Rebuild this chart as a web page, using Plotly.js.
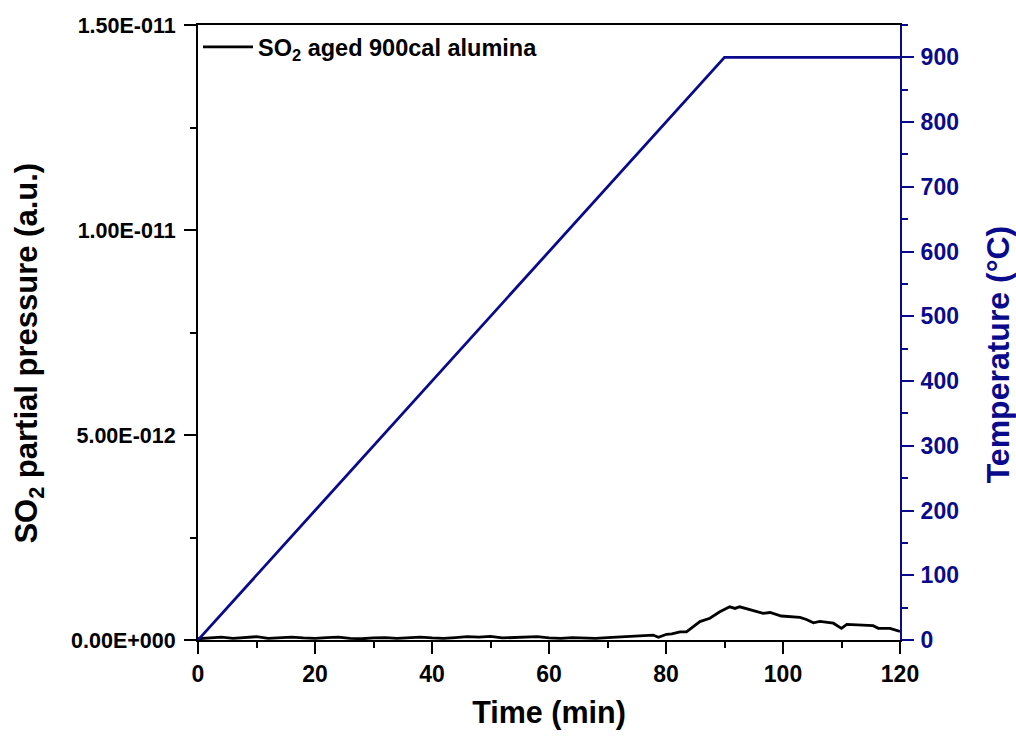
<!DOCTYPE html>
<html>
<head>
<meta charset="utf-8">
<script src="https://cdn.plot.ly/plotly-3.0.1.min.js"></script>
<style>html,body{margin:0;padding:0;background:#fff;}#chart{width:1016px;height:744px;}</style>
</head>
<body>
<div id="chart"></div>
<script>
// SO2 partial pressure (a.u.) vs time (min)
const so2Time = [0, 2, 4, 6, 8, 10, 12, 14, 16, 18, 20, 22, 24, 26, 28, 30, 32, 34, 36, 38,
  40, 42, 44, 46, 48, 50, 52, 54, 56, 58, 60, 62, 64, 66, 68, 70, 72, 74, 75, 77.8,
  78.7, 80.1, 81, 82.4, 83.5, 84.5, 85.8, 87.5, 88.3, 89.2, 90.9, 91.8, 92.6, 94.4, 96.6,
  97.8, 99.7, 102.9, 104, 105.2, 106.3, 108.6, 110, 110.9, 113, 115.4, 116.3, 118.3, 120];
const so2Pressure = [0.3e-13, 0.5e-13, 0.7e-13, 0.4e-13, 0.6e-13, 0.8e-13, 0.4e-13, 0.5e-13, 0.7e-13, 0.5e-13,
  0.4e-13, 0.6e-13, 0.7e-13, 0.4e-13, 0.3e-13, 0.5e-13, 0.6e-13, 0.4e-13, 0.5e-13, 0.7e-13,
  0.5e-13, 0.4e-13, 0.6e-13, 0.8e-13, 0.7e-13, 0.9e-13, 0.5e-13, 0.6e-13, 0.7e-13, 0.8e-13,
  0.5e-13, 0.4e-13, 0.6e-13, 0.5e-13, 0.4e-13, 0.6e-13, 0.8e-13, 0.9e-13, 1.05e-13, 1.2e-13,
  0.65e-13, 1.4e-13, 1.5e-13, 2.0e-13, 2.0e-13, 3.0e-13, 4.5e-13, 5.3e-13, 6.0e-13, 6.9e-13,
  8.1e-13, 7.7e-13, 8.1e-13, 7.3e-13, 6.5e-13, 6.7e-13, 5.85e-13, 5.5e-13, 5.0e-13, 4.2e-13,
  4.55e-13, 4.1e-13, 2.85e-13, 3.8e-13, 3.7e-13, 3.5e-13, 2.85e-13, 2.85e-13, 2.1e-13];

// Temperature program (°C)
const tempTime = [0, 90, 120];
const temperature = [0, 900, 900];

// Axis ticks
const xTickVals = [0, 20, 40, 60, 80, 100, 120];
const leftTickVals = [0, 5e-12, 1e-11, 1.5e-11];
const leftTickText = ['0.00E+000', '5.00E-012', '1.00E-011', '1.50E-011'];
const leftMinorVals = [2.5e-12, 7.5e-12, 1.25e-11];
const rightTickVals = [0, 100, 200, 300, 400, 500, 600, 700, 800, 900];

const NAVY = '#0a0a8c';
const FONT = 'Liberation Sans, Arial, sans-serif';

const traces = [
  {
    x: so2Time, y: so2Pressure, type: 'scatter', mode: 'lines',
    name: 'SO<sub>2</sub> aged 900cal alumina',
    line: {color: '#000000', width: 2.8},
    xaxis: 'x', yaxis: 'y'
  },
  {
    x: tempTime, y: temperature, type: 'scatter', mode: 'lines',
    name: 'Temperature', showlegend: false,
    line: {color: NAVY, width: 2.8},
    xaxis: 'x', yaxis: 'y2'
  }
];

const layout = {
  width: 1016, height: 744,
  paper_bgcolor: '#ffffff', plot_bgcolor: '#ffffff',
  margin: {l: 198, r: 116, t: 25, b: 104, pad: 0},
  font: {family: FONT, color: '#000000'},
  showlegend: true,
  legend: {
    x: 0.0, y: 1.0, xanchor: 'left', yanchor: 'top',
    bgcolor: 'rgba(0,0,0,0)', borderwidth: 0,
    font: {family: FONT, size: 23.5, weight: 'bold', color: '#000'},
    itemwidth: 50
  },
  xaxis: {
    range: [0, 120], tickmode: 'array', tickvals: xTickVals,
    showgrid: false, zeroline: false,
    showline: true, linecolor: '#000', linewidth: 2, mirror: true,
    ticks: 'outside', ticklen: 12, tickwidth: 2, tickcolor: '#000',
    minor: {dtick: 10, ticks: 'outside', ticklen: 6, tickwidth: 2, tickcolor: '#000', showgrid: false},
    tickfont: {family: FONT, size: 23, weight: 'bold', color: '#000'},
    title: {text: 'Time (min)', font: {family: FONT, size: 30.5, weight: 'bold', color: '#000'}, standoff: 16}
  },
  yaxis: {
    range: [0, 1.5e-11], tickmode: 'array', tickvals: leftTickVals, ticktext: leftTickText,
    showgrid: false, zeroline: false,
    showline: true, linecolor: '#000', linewidth: 2, mirror: false,
    ticks: 'outside', ticklen: 12, tickwidth: 2, tickcolor: '#000',
    ticklabelstandoff: 4,
    minor: {tickvals: leftMinorVals, ticks: 'outside', ticklen: 6, tickwidth: 2, tickcolor: '#000', showgrid: false},
    tickfont: {family: FONT, size: 21.5, weight: 'bold', color: '#000'}
  },
  yaxis2: {
    overlaying: 'y', side: 'right', anchor: 'x',
    range: [0, 950], tickmode: 'array', tickvals: rightTickVals,
    showgrid: false, zeroline: false,
    showline: true, linecolor: NAVY, linewidth: 2,
    ticks: 'outside', ticklen: 12, tickwidth: 2, tickcolor: NAVY,
    ticklabelstandoff: 2,
    minor: {dtick: 50, ticks: 'outside', ticklen: 6, tickwidth: 2, tickcolor: NAVY, showgrid: false},
    tickfont: {family: FONT, size: 23, weight: 'bold', color: NAVY}
  },
  annotations: [
    {
      text: 'SO<sub>2</sub> partial pressure (a.u.)', textangle: -90,
      xref: 'paper', yref: 'paper', x: -0.241, y: 0.467, xanchor: 'center', yanchor: 'middle',
      showarrow: false, font: {family: FONT, size: 31, weight: 'bold', color: '#000'}
    },
    {
      text: 'Temperature (°C)', textangle: -90,
      xref: 'paper', yref: 'paper', x: 1.14, y: 0.465, xanchor: 'center', yanchor: 'middle',
      showarrow: false, font: {family: FONT, size: 32, weight: 'bold', color: NAVY}
    }
  ]
};

Plotly.newPlot('chart', traces, layout, {displayModeBar: false, staticPlot: true});
</script>
</body>
</html>
